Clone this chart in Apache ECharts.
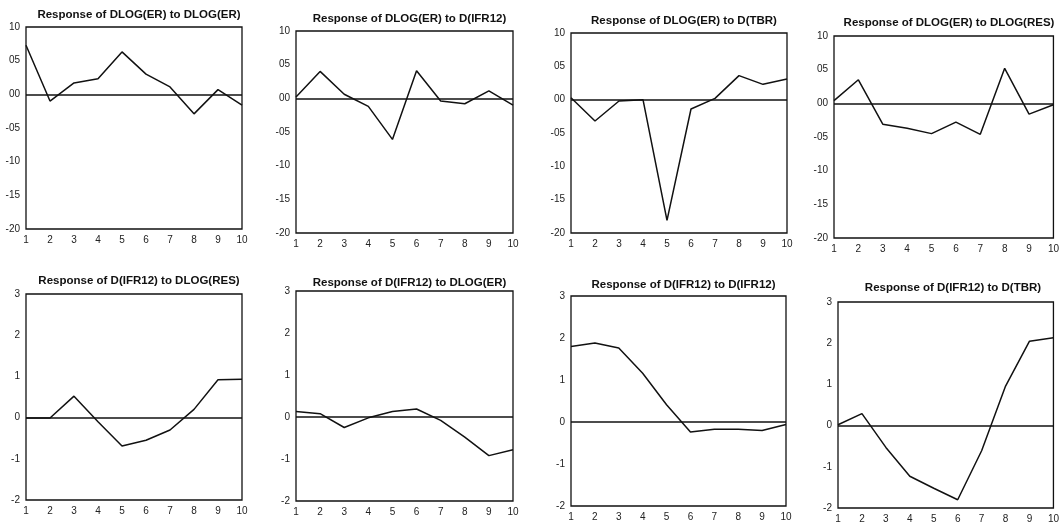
<!DOCTYPE html>
<html>
<head>
<meta charset="utf-8">
<script src="https://cdn.jsdelivr.net/npm/echarts@6/dist/echarts.min.js"></script>
<style>
html,body{margin:0;padding:0;background:#fff;}
#c{width:1062px;height:526px;}
</style>
</head>
<body>
<div id="c"></div>
<script>
// Horizon periods
const periods = [1, 2, 3, 4, 5, 6, 7, 8, 9, 10];

// Panel titles
const titles = [
  'Response of DLOG(ER) to DLOG(ER)',
  'Response of DLOG(ER) to D(IFR12)',
  'Response of DLOG(ER) to D(TBR)',
  'Response of DLOG(ER) to DLOG(RES)',
  'Response of D(IFR12) to DLOG(RES)',
  'Response of D(IFR12) to DLOG(ER)',
  'Response of D(IFR12) to D(IFR12)',
  'Response of D(IFR12) to D(TBR)'
];

// Impulse responses
const erToEr   = [0.073, -0.010, 0.017, 0.023, 0.063, 0.030, 0.011, -0.029, 0.007, -0.016];
const erToIfr  = [0.002, 0.040, 0.006, -0.012, -0.061, 0.041, -0.004, -0.008, 0.011, -0.010];
const erToTbr  = [0.003, -0.032, -0.002, 0.000, -0.181, -0.014, 0.002, 0.036, 0.023, 0.031];
const erToRes  = [0.004, 0.035, -0.031, -0.037, -0.045, -0.028, -0.046, 0.052, -0.016, -0.002];
const ifrToRes = [-0.01, -0.01, 0.52, -0.10, -0.69, -0.55, -0.30, 0.20, 0.92, 0.93];
const ifrToEr  = [0.13, 0.08, -0.25, -0.02, 0.13, 0.19, -0.08, -0.48, -0.92, -0.78];
const ifrToIfr = [1.80, 1.88, 1.76, 1.16, 0.41, -0.24, -0.17, -0.17, -0.20, -0.06];
const ifrToTbr = [0.02, 0.29, -0.53, -1.23, -1.52, -1.80, -0.61, 0.96, 2.05, 2.13];

const seriesData = [erToEr, erToIfr, erToTbr, erToRes, ifrToRes, ifrToEr, ifrToIfr, ifrToTbr];

// Y axis ranges
const topRange = {min: -0.20, max: 0.10, interval: 0.05};
const botRange = {min: -2, max: 3, interval: 1};

// Layout of the panels (px)
const boxes = [
  {l: 26,  t: 27,  w: 216, h: 202, tt: 4},
  {l: 296, t: 31,  w: 217, h: 202, tt: 8},
  {l: 571, t: 33,  w: 216, h: 200, tt: 10},
  {l: 834, t: 36,  w: 220, h: 202, tt: 12},
  {l: 26,  t: 294, w: 216, h: 206, tt: 270},
  {l: 296, t: 291, w: 217, h: 210, tt: 272},
  {l: 571, t: 296, w: 215, h: 210, tt: 274},
  {l: 838, t: 302, w: 220, h: 206, tt: 277}
];

function topFmt(v) {
  const n = Math.round(Math.abs(v) * 100);
  return (v < -1e-9 ? '-' : '') + String(n).padStart(2, '0');
}
function botFmt(v) { return String(Math.round(v)); }

const chart = echarts.init(document.getElementById('c'), null, {renderer: 'canvas'});
const fontFam = '"Liberation Sans", Arial, sans-serif';

const option = {
  backgroundColor: '#fff',
  animation: false,
  title: [], grid: [], xAxis: [], yAxis: [], series: []
};

boxes.forEach((b, i) => {
  const isTop = i < 4;
  const r = isTop ? topRange : botRange;
  option.title.push({
    text: titles[i],
    left: b.l + b.w / 2,
    top: b.tt,
    textAlign: 'center',
    textStyle: {fontFamily: fontFam, fontSize: 11.5, fontWeight: 'bold', color: '#111'}
  });
  option.grid.push({
    left: b.l, top: b.t, width: b.w, height: b.h,
    show: true, borderColor: '#111', borderWidth: 1.3, backgroundColor: 'transparent'
  });
  option.xAxis.push({
    type: 'value', gridIndex: i, min: 1, max: 10, interval: 1,
    axisLine: {show: false}, axisTick: {show: false}, splitLine: {show: false},
    axisLabel: {color: '#222', fontFamily: fontFam, fontSize: 10, margin: 6}
  });
  option.yAxis.push({
    type: 'value', gridIndex: i, min: r.min, max: r.max, interval: r.interval,
    axisLine: {show: false}, axisTick: {show: false}, splitLine: {show: false},
    axisLabel: {color: '#222', fontFamily: fontFam, fontSize: 10, margin: 6,
      formatter: isTop ? topFmt : botFmt}
  });
  option.series.push({
    type: 'line', xAxisIndex: i, yAxisIndex: i,
    data: periods.map((p, k) => [p, seriesData[i][k]]),
    symbol: 'none', silent: true,
    lineStyle: {color: '#111', width: 1.5},
    markLine: {
      silent: true, symbol: 'none', label: {show: false},
      lineStyle: {color: '#111', width: 1.5, type: 'solid'},
      data: [{yAxis: 0}]
    }
  });
});

chart.setOption(option);
</script>
</body>
</html>
